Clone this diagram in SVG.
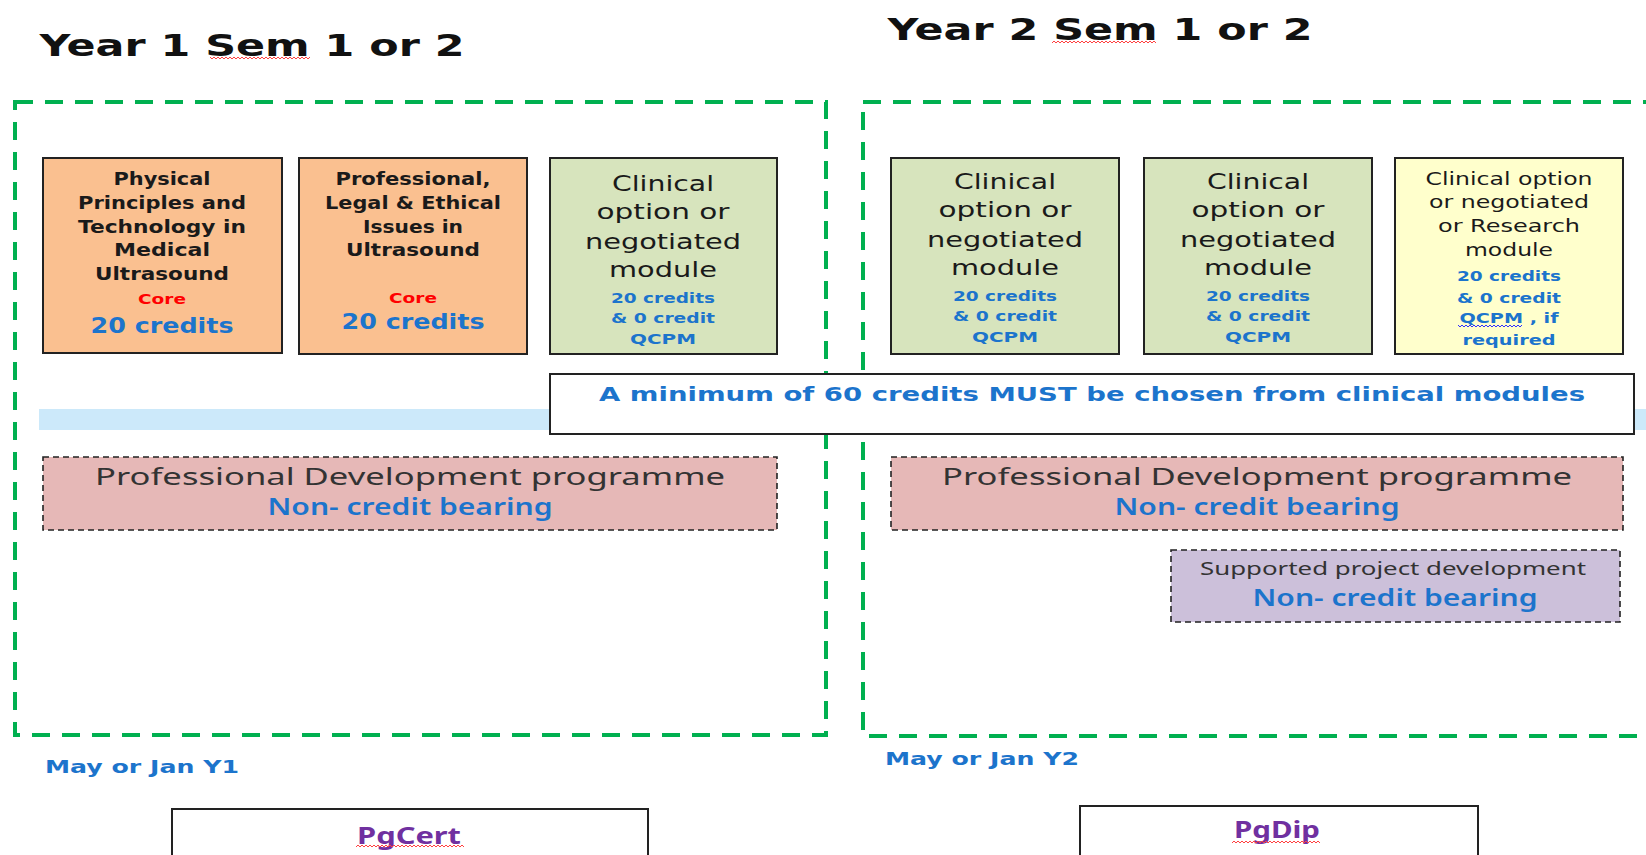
<svg xmlns="http://www.w3.org/2000/svg" width="1646" height="855" viewBox="0 0 1646 855">
<style>
.t{font-family:"DejaVu Sans",Verdana,sans-serif;text-anchor:middle}
.b{font-weight:bold}
.blk{fill:#1a1a1a}
.blu{fill:#1c74cc}
.red{fill:#ff0000}
.pd{font-family:"Noto Sans","Open Sans",sans-serif;text-anchor:middle}
.zone{fill:none;stroke:#00b050;stroke-width:4;stroke-dasharray:18 12}
.mod{stroke:#222;stroke-width:2}
.dash{stroke:#222;stroke-width:1.6;stroke-dasharray:6 4}
</style>
<defs>
<pattern id="sqr" width="4" height="4" patternUnits="userSpaceOnUse"><path d="M0 3 L2 1 L4 3" fill="none" stroke="#ff4040" stroke-width="1"/></pattern>
<pattern id="sqb" width="4" height="4" patternUnits="userSpaceOnUse"><path d="M0 3 L2 1 L4 3" fill="none" stroke="#3030ff" stroke-width="1"/></pattern>
</defs>
<rect width="1646" height="855" fill="#fff"/>

<g id="titles">
<text class="t b" x="252" y="56" font-size="31" fill="#111" textLength="425" lengthAdjust="spacingAndGlyphs">Year 1 Sem 1 or 2</text>
<rect x="210" y="56" width="100" height="4" fill="url(#sqr)"/>
<text class="t b" x="1100" y="40" font-size="31" fill="#111" textLength="425" lengthAdjust="spacingAndGlyphs">Year 2 Sem 1 or 2</text>
<rect x="1052" y="40" width="104" height="4" fill="url(#sqr)"/>
</g>

<g id="zones">
<rect class="zone" x="15" y="102" width="811" height="633"/>
<rect class="zone" x="863" y="102" width="820" height="634"/>
</g>

<rect id="band" x="39" y="409" width="1607" height="21" fill="#cce9fa"/>

<g id="m1">
<rect class="mod" x="43" y="158" width="239" height="195" fill="#fac090"/>
<g class="t b blk" font-size="17">
<text x="162" y="185" textLength="97" lengthAdjust="spacingAndGlyphs">Physical</text>
<text x="162" y="209" textLength="168" lengthAdjust="spacingAndGlyphs">Principles and</text>
<text x="162" y="233" textLength="168" lengthAdjust="spacingAndGlyphs">Technology in</text>
<text x="162" y="256" textLength="96" lengthAdjust="spacingAndGlyphs">Medical</text>
<text x="162" y="280" textLength="134" lengthAdjust="spacingAndGlyphs">Ultrasound</text>
</g>
<text class="t b red" x="162" y="304" font-size="14" textLength="48" lengthAdjust="spacingAndGlyphs">Core</text>
<text class="t b blu" x="162" y="333" font-size="22" textLength="143" lengthAdjust="spacingAndGlyphs">20 credits</text>
</g>

<g id="m2">
<rect class="mod" x="299" y="158" width="228" height="196" fill="#fac090"/>
<g class="t b blk" font-size="17">
<text x="413" y="185" textLength="155" lengthAdjust="spacingAndGlyphs">Professional,</text>
<text x="413" y="209" textLength="176" lengthAdjust="spacingAndGlyphs">Legal &amp; Ethical</text>
<text x="413" y="233" textLength="100" lengthAdjust="spacingAndGlyphs">Issues in</text>
<text x="413" y="256" textLength="134" lengthAdjust="spacingAndGlyphs">Ultrasound</text>
</g>
<text class="t b red" x="413" y="303" font-size="14" textLength="48" lengthAdjust="spacingAndGlyphs">Core</text>
<text class="t b blu" x="413" y="329" font-size="22" textLength="143" lengthAdjust="spacingAndGlyphs">20 credits</text>
</g>

<g id="m3">
<rect class="mod" x="550" y="158" width="227" height="196" fill="#d7e4bd"/>
<g class="t blk" font-size="22">
<text x="663" y="191" textLength="102" lengthAdjust="spacingAndGlyphs">Clinical</text>
<text x="663" y="219" textLength="133" lengthAdjust="spacingAndGlyphs">option or</text>
<text x="663" y="249" textLength="156" lengthAdjust="spacingAndGlyphs">negotiated</text>
<text x="663" y="277" textLength="108" lengthAdjust="spacingAndGlyphs">module</text>
</g>
<g class="t b blu" font-size="14">
<text x="663" y="303" textLength="104" lengthAdjust="spacingAndGlyphs">20 credits</text>
<text x="663" y="323" textLength="104" lengthAdjust="spacingAndGlyphs">&amp; 0 credit</text>
<text x="663" y="344" textLength="66" lengthAdjust="spacingAndGlyphs">QCPM</text>
</g>
</g>

<g id="m4">
<rect class="mod" x="891" y="158" width="228" height="196" fill="#d7e4bd"/>
<g class="t blk" font-size="22">
<text x="1005" y="189" textLength="102" lengthAdjust="spacingAndGlyphs">Clinical</text>
<text x="1005" y="217" textLength="133" lengthAdjust="spacingAndGlyphs">option or</text>
<text x="1005" y="247" textLength="156" lengthAdjust="spacingAndGlyphs">negotiated</text>
<text x="1005" y="275" textLength="108" lengthAdjust="spacingAndGlyphs">module</text>
</g>
<g class="t b blu" font-size="14">
<text x="1005" y="301" textLength="104" lengthAdjust="spacingAndGlyphs">20 credits</text>
<text x="1005" y="321" textLength="104" lengthAdjust="spacingAndGlyphs">&amp; 0 credit</text>
<text x="1005" y="342" textLength="66" lengthAdjust="spacingAndGlyphs">QCPM</text>
</g>
</g>

<g id="m5">
<rect class="mod" x="1144" y="158" width="228" height="196" fill="#d7e4bd"/>
<g class="t blk" font-size="22">
<text x="1258" y="189" textLength="102" lengthAdjust="spacingAndGlyphs">Clinical</text>
<text x="1258" y="217" textLength="133" lengthAdjust="spacingAndGlyphs">option or</text>
<text x="1258" y="247" textLength="156" lengthAdjust="spacingAndGlyphs">negotiated</text>
<text x="1258" y="275" textLength="108" lengthAdjust="spacingAndGlyphs">module</text>
</g>
<g class="t b blu" font-size="14">
<text x="1258" y="301" textLength="104" lengthAdjust="spacingAndGlyphs">20 credits</text>
<text x="1258" y="321" textLength="104" lengthAdjust="spacingAndGlyphs">&amp; 0 credit</text>
<text x="1258" y="342" textLength="66" lengthAdjust="spacingAndGlyphs">QCPM</text>
</g>
</g>

<g id="m6">
<rect class="mod" x="1395" y="158" width="228" height="196" fill="#ffffcc"/>
<g class="t blk" font-size="17">
<text x="1509" y="185" textLength="167" lengthAdjust="spacingAndGlyphs">Clinical option</text>
<text x="1509" y="208" textLength="160" lengthAdjust="spacingAndGlyphs">or negotiated</text>
<text x="1509" y="232" textLength="142" lengthAdjust="spacingAndGlyphs">or Research</text>
<text x="1509" y="256" textLength="88" lengthAdjust="spacingAndGlyphs">module</text>
</g>
<g class="t b blu" font-size="14">
<text x="1509" y="281" textLength="104" lengthAdjust="spacingAndGlyphs">20 credits</text>
<text x="1509" y="303" textLength="104" lengthAdjust="spacingAndGlyphs">&amp; 0 credit</text>
<text x="1509" y="323" textLength="99" lengthAdjust="spacingAndGlyphs">QCPM , if</text>
<text x="1509" y="345" textLength="93" lengthAdjust="spacingAndGlyphs">required</text>
</g>
<rect x="1458" y="324" width="64" height="4" fill="url(#sqb)"/>
</g>

<g id="minimum">
<rect x="550" y="374" width="1084" height="60" fill="#fff" stroke="#222" stroke-width="2"/>
<text class="t b blu" x="1092" y="401" font-size="20" textLength="986" lengthAdjust="spacingAndGlyphs">A minimum of 60 credits MUST be chosen from clinical modules</text>
</g>

<g id="pd1">
<rect class="dash" x="43" y="457" width="734" height="73" fill="#e6b8b7"/>
<text class="pd" x="410" y="485" font-size="24" fill="#333" textLength="630" lengthAdjust="spacingAndGlyphs">Professional Development programme</text>
<text class="pd blu" x="410" y="515" font-size="23" font-weight="600" textLength="285" lengthAdjust="spacingAndGlyphs">Non- credit bearing</text>
</g>

<g id="pd2">
<rect class="dash" x="891" y="457" width="732" height="73" fill="#e6b8b7"/>
<text class="pd" x="1257" y="485" font-size="24" fill="#333" textLength="630" lengthAdjust="spacingAndGlyphs">Professional Development programme</text>
<text class="pd blu" x="1257" y="515" font-size="23" font-weight="600" textLength="285" lengthAdjust="spacingAndGlyphs">Non- credit bearing</text>
</g>

<g id="spd">
<rect class="dash" x="1171" y="550" width="449" height="72" fill="#ccc0da"/>
<text class="pd" x="1393" y="575" font-size="18" fill="#333" textLength="386" lengthAdjust="spacingAndGlyphs">Supported project development</text>
<text class="pd blu" x="1395" y="606" font-size="23" font-weight="600" textLength="285" lengthAdjust="spacingAndGlyphs">Non- credit bearing</text>
</g>

<g id="dates">
<text class="t b blu" x="142" y="773" font-size="17" textLength="194" lengthAdjust="spacingAndGlyphs">May or Jan Y1</text>
<text class="t b blu" x="982" y="765" font-size="17" textLength="194" lengthAdjust="spacingAndGlyphs">May or Jan Y2</text>
</g>

<g id="pgcert">
<rect x="172" y="809" width="476" height="60" fill="#fff" stroke="#222" stroke-width="2"/>
<text class="pd b" x="409" y="844" font-size="24" fill="#7030a0" textLength="104" lengthAdjust="spacingAndGlyphs">PgCert</text>
<rect x="356" y="844" width="108" height="4" fill="url(#sqr)"/>
</g>

<g id="pgdip">
<rect x="1080" y="806" width="398" height="60" fill="#fff" stroke="#222" stroke-width="2"/>
<text class="pd b" x="1277" y="838" font-size="24" fill="#7030a0" textLength="86" lengthAdjust="spacingAndGlyphs">PgDip</text>
<rect x="1232" y="840" width="88" height="4" fill="url(#sqr)"/>
</g>

<g id="connectors"></g>
</svg>
